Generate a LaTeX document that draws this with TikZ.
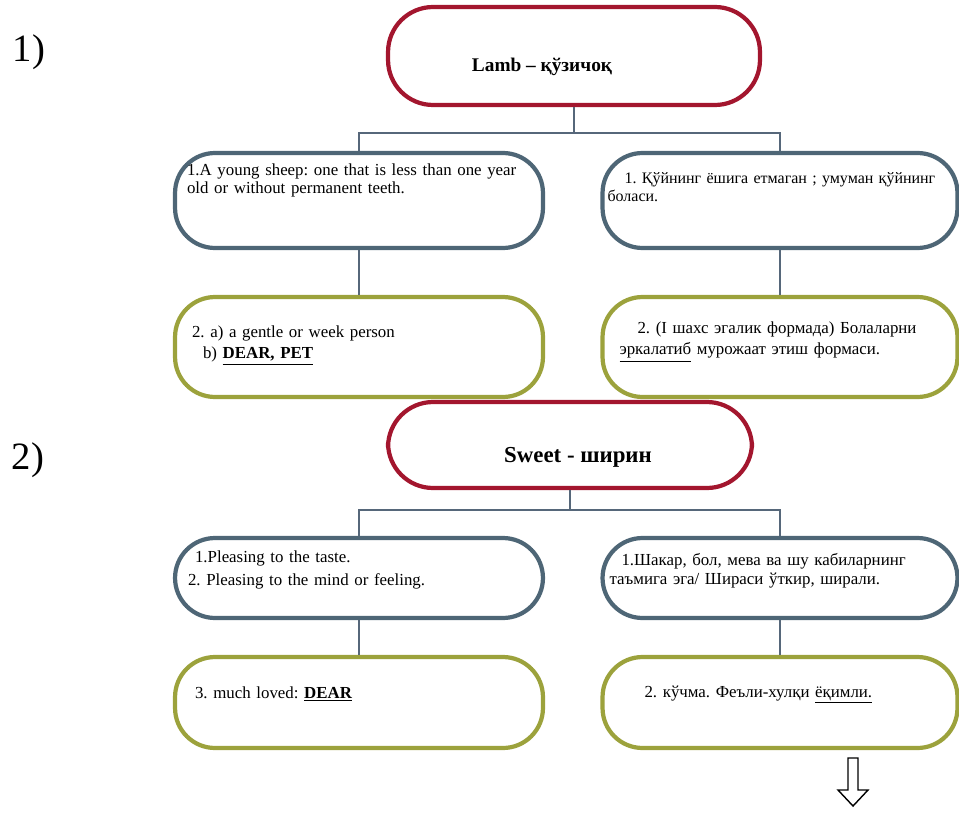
\documentclass[tikz,border=0pt]{standalone}
\usepackage{fontspec}
\setmainfont{Liberation Serif}
\usepackage{xcolor}
\frenchspacing
\definecolor{Crimson}{HTML}{A3162E}
\definecolor{Slate}{HTML}{4E6676}
\definecolor{Olive}{HTML}{9CA23C}
\definecolor{Wire}{HTML}{56677A}
\tikzset{
 headbox/.style={draw=Crimson, line width=2.4pt, rounded corners=0.9cm, fill=white, inner sep=0pt, font=\fontsize{11}{13}\selectfont\bfseries},
 sensebox/.style={line width=2.4pt, rounded corners=0.8cm, fill=white, inner ysep=0pt, align=left, font=\fontsize{9.6}{12.5}\selectfont},
 slatebox/.style={sensebox, draw=Slate},
 olivebox/.style={sensebox, draw=Olive},
 link/.style={draw=Wire, line width=0.8pt},
 numlabel/.style={font=\fontsize{22}{24}\selectfont}
}

\begin{document}
\begin{tikzpicture}[x=0.02cm,y=-0.02cm]
\useasboundingbox (0,0) rectangle (959,814);
\node[numlabel] (num1) at (29,52) {1)};
\node[numlabel] (num2) at (28,460) {2)};

% lamb
\node[headbox, minimum width=7.44cm, text height=1.3cm, text depth=0.66cm] (lamb) at (574,56) {Lamb – қўзичоқ\hspace*{1.28cm}};
\node[slatebox, inner xsep=0.24cm, text width=6.88cm, text height=0.44cm, text depth=1.46cm, font=\fontsize{9.6}{10.3}\selectfont] (lambEn1) at (359,200.5) {1.A young sheep: one that is less than one year\\old or without permanent teeth.};
\node[slatebox, inner xsep=0.1cm, text width=6.9cm, text height=0.6cm, text depth=1.3cm, font=\fontsize{9.1}{10.3}\selectfont] (lambUz1) at (780,200.5) {\hspace*{0.34cm}1. Қўйнинг ёшига етмаган ; умуман қўйнинг\\боласи.};
\node[olivebox, inner xsep=0.34cm, text width=6.68cm, text height=0.8cm, text depth=1.2cm] (lambEn2) at (359,347) {2. a) a gentle or week person\\\hspace*{0.22cm}b) \textbf{\underline{DEAR, PET}}};
\node[olivebox, inner xsep=0.34cm, text width=6.42cm, text height=0.72cm, text depth=1.28cm] (lambUz2) at (780,347) {\hspace*{0.36cm}2. (I шахс эгалик формада) Болаларни\\\underline{эркалатиб} мурожаат этиш формаси.};

\draw[link] (lamb.south) -- ++(0,26) -| (lambEn1.north);
\draw[link] (lamb.south) -- ++(0,26) -| (lambUz1.north);
\draw[link] (lambEn1.south) -- (lambEn2.north);
\draw[link] (lambUz1.south) -- (lambUz2.north);

% sweet
\node[headbox, minimum width=7.28cm, text height=1.2cm, text depth=0.52cm, font=\fontsize{13}{15}\selectfont\bfseries] (sweet) at (570,445) {\hspace*{0.32cm}Sweet - ширин};
\node[slatebox, inner xsep=0.26cm, text width=6.84cm, text height=0.48cm, text depth=1.12cm, font=\fontsize{9.6}{13.6}\selectfont] (sweetEn1) at (359,578) {\hspace*{0.14cm}1.Pleasing to the taste.\\2. Pleasing to the mind or feeling.};
\node[slatebox, inner xsep=0.14cm, text width=6.82cm, text height=0.54cm, text depth=1.06cm, font=\fontsize{9.6}{11.3}\selectfont] (sweetUz1) at (780,578) {\hspace*{0.24cm}1.Шакар, бол, мева ва шу кабиларнинг\\таъмига эга/ Шираси ўткир, ширали.};
\node[olivebox, inner xsep=0.4cm, text width=6.56cm, text height=0.82cm, text depth=1.0cm] (sweetEn2) at (359,702.5) {3. much loved: \textbf{\underline{DEAR}}};
\node[olivebox, inner xsep=0.84cm, text width=5.42cm, text height=0.8cm, text depth=1.02cm] (sweetUz2) at (780,702.5) {2. кўчма. Феъли-хулқи \underline{ёқимли.}};

\draw[link] (sweet.south) -- ++(0,20) -| (sweetEn1.north);
\draw[link] (sweet.south) -- ++(0,20) -| (sweetUz1.north);
\draw[link] (sweetEn1.south) -- (sweetEn2.north);
\draw[link] (sweetUz1.south) -- (sweetUz2.north);

\draw[line width=0.8pt, fill=white] (848,758) -- (858,758) -- (858,790) -- (868,790) -- (853,806) -- (838,790) -- (848,790) -- cycle;
\end{tikzpicture}
\end{document}
